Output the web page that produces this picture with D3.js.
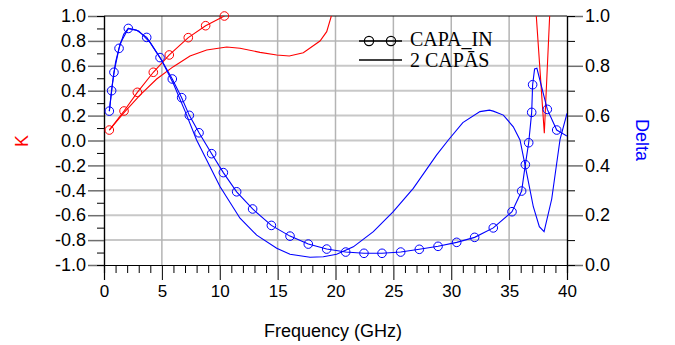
<!DOCTYPE html>
<html><head><meta charset="utf-8">
<script src="https://cdn.jsdelivr.net/npm/d3@7"></script>
<style>
html,body{margin:0;padding:0;background:#fff;}
svg{display:block;}
text{font-family:"Liberation Sans",Arial,sans-serif;}
</style></head>
<body>
<script>
// ---------- data ----------
const xTicks = [0,5,10,15,20,25,30,35,40];
const kTicks = [-1.0,-0.8,-0.6,-0.4,-0.2,0.0,0.2,0.4,0.6,0.8,1.0];
const deltaTicks = [0.0,0.2,0.4,0.6,0.8,1.0];
const legendLabels = ["CAPA_IN","2 CAPĀS"];

// K, CAPA_IN (red, circles)
const capaInK = [[0.46,0.084],[1.73,0.237],[2.88,0.387],[4.26,0.548],[5.64,0.687],[7.28,0.826],[8.78,0.922],[10.4,1.0],[11.6,1.07]];
const capaInKMarks = [[0.46,0.084],[1.73,0.237],[2.88,0.387],[4.26,0.548],[5.64,0.687],[7.28,0.826],[8.78,0.922],[10.4,1.0]];

// Delta, CAPA_IN (blue, circles)
const capaInDelta = [[0.46,0.618],[0.66,0.700],[0.86,0.774],[1.30,0.870],[1.7,0.927],[2.10,0.950],[2.8,0.944],[3.69,0.914],[4.84,0.833],[5.90,0.747],[6.71,0.672],[7.37,0.601],[8.21,0.531],[9.30,0.447],[10.31,0.371],[11.46,0.294],[12.84,0.225],[14.46,0.159],[16.07,0.116],[17.65,0.084],[19.24,0.064],[20.88,0.052],[22.46,0.047],[24.02,0.047],[25.63,0.052],[27.24,0.063],[28.86,0.075],[30.47,0.091],[32.02,0.111],[33.63,0.149],[35.25,0.214],[36.08,0.297],[36.40,0.403],[36.69,0.491],[36.95,0.613],[37.03,0.724],[37.2,0.787],[37.4,0.79],[38.30,0.625],[39.11,0.542],[40,0.518]];
const capaInDeltaMarks = [[0.46,0.618],[0.66,0.700],[0.86,0.774],[1.30,0.870],[2.10,0.950],[3.69,0.914],[4.84,0.833],[5.90,0.747],[6.71,0.672],[7.37,0.601],[8.21,0.531],[9.30,0.447],[10.31,0.371],[11.46,0.294],[12.84,0.225],[14.46,0.159],[16.07,0.116],[17.65,0.084],[19.24,0.064],[20.88,0.052],[22.46,0.047],[24.02,0.047],[25.63,0.052],[27.24,0.063],[28.86,0.075],[30.47,0.091],[32.02,0.111],[33.63,0.149],[35.25,0.214],[36.08,0.297],[36.40,0.403],[36.69,0.491],[36.95,0.613],[37.03,0.724],[38.30,0.625],[39.11,0.542]];

// K, 2 CAPAS (red, plain)
const twoCapasK = [[0.46,0.084],[1.67,0.218],[3.11,0.365],[4.55,0.494],[5.99,0.593],[7.43,0.679],[8.87,0.727],[10.6,0.751],[11.75,0.741],[13.48,0.708],[14.92,0.687],[16.01,0.679],[17.22,0.705],[18.66,0.799],[19.24,0.874],[19.64,1.0],[20.2,1.2],[37.2,1.2],[38.04,0.058],[38.6,1.2]];

// Delta, 2 CAPAS (blue, plain)
const twoCapasDelta = [[0.46,0.618],[0.7,0.72],[1.0,0.815],[1.4,0.89],[2.1,0.95],[3.0,0.94],[4.0,0.893],[5.0,0.82],[6.0,0.728],[7.0,0.618],[8.0,0.502],[8.87,0.422],[10.02,0.315],[11.75,0.188],[13.19,0.120],[14.92,0.067],[16.07,0.043],[17.8,0.031],[18.95,0.033],[20.1,0.043],[21.54,0.073],[23.27,0.134],[24.99,0.214],[26.72,0.308],[28.74,0.442],[29.75,0.502],[31.0,0.572],[32.48,0.616],[33.3,0.622],[33.63,0.618],[34.5,0.602],[35.36,0.555],[35.94,0.502],[36.52,0.368],[37.09,0.234],[37.61,0.154],[38.02,0.134],[38.68,0.265],[39.4,0.505],[40,0.609]];

// ---------- layout ----------
const W = 675, H = 345;
const L = 104, R = 567, T = 16, B = 265;
const x = d3.scaleLinear().domain([0,40]).range([L,R]);
const yK = d3.scaleLinear().domain([-1,1]).range([B,T]);
const yD = d3.scaleLinear().domain([0,1]).range([B,T]);

const svg = d3.select("body").append("svg").attr("width",W).attr("height",H);

svg.append("defs").append("clipPath").attr("id","clip")
  .append("rect").attr("x",L).attr("y",T).attr("width",R-L).attr("height",B-T);

// grid
const grid = svg.append("g");
grid.selectAll(".hg").data(kTicks.filter(d=>d>-1 && d<1)).enter().append("line")
  .attr("x1",L).attr("x2",R).attr("y1",d=>yK(d)).attr("y2",d=>yK(d))
  .attr("stroke","#c8c8c8").attr("stroke-width",2);
grid.selectAll(".vg").data(xTicks.filter(d=>d>0 && d<40)).enter().append("line")
  .attr("y1",T).attr("y2",B).attr("x1",d=>x(d)).attr("x2",d=>x(d))
  .attr("stroke","#b4b4b4").attr("stroke-width",1.5);

// axes
const fmt = d => d.toFixed(1);
const leftMajor = svg.append("g").attr("transform",`translate(${L},0)`)
  .call(d3.axisLeft(yK).tickValues(kTicks).tickSize(16).tickPadding(2).tickFormat(fmt));
const leftMinor = svg.append("g").attr("transform",`translate(${L},0)`)
  .call(d3.axisLeft(yK).tickValues(d3.range(-0.9,1.0,0.2)).tickSize(7).tickFormat(""));
const rightMajor = svg.append("g").attr("transform",`translate(${R},0)`)
  .call(d3.axisRight(yD).tickValues(deltaTicks).tickSize(16).tickPadding(2).tickFormat(fmt));
const rightMinor = svg.append("g").attr("transform",`translate(${R},0)`)
  .call(d3.axisRight(yD).tickValues(d3.range(0.1,1.0,0.2)).tickSize(8).tickFormat(""));
const bottomMajor = svg.append("g").attr("transform",`translate(0,${B})`)
  .call(d3.axisBottom(x).tickValues(xTicks).tickSize(15).tickPadding(5).tickFormat(d3.format("d")));
const bottomMinor = svg.append("g").attr("transform",`translate(0,${B})`)
  .call(d3.axisBottom(x).tickValues(d3.range(0,41,1).filter(d=>d%5!==0)).tickSize(8).tickFormat(""));

[leftMajor,leftMinor,rightMajor,rightMinor,bottomMajor,bottomMinor].forEach(g=>{
  g.select(".domain").attr("stroke","#000").attr("stroke-width",1.2);
  g.selectAll(".tick line").attr("stroke","#000").attr("stroke-width",1);
  g.selectAll("text").attr("fill","#000").style("font-family","'Liberation Sans',Arial,sans-serif");
});
[leftMajor,rightMajor].forEach(g=>{
  g.selectAll(".tick line").attr("stroke","#6e6e6e").attr("stroke-width",1.5);
  g.selectAll("text").style("font-size","18px");
});
bottomMajor.selectAll("text").style("font-size","17px");

// top border
svg.append("line").attr("x1",L).attr("x2",R).attr("y1",T).attr("y2",T)
  .attr("stroke","#000").attr("stroke-width",1.2);

// axis titles
svg.append("text").attr("transform","translate(28,141) rotate(-90)")
  .attr("text-anchor","middle").attr("fill","#ff0000").style("font-size","18px").text("K");
svg.append("text").attr("transform","translate(636,140) rotate(90)")
  .attr("text-anchor","middle").attr("fill","#0000ff").style("font-size","18px").text("Delta");
svg.append("text").attr("x",333).attr("y",337)
  .attr("text-anchor","middle").attr("fill","#000").style("font-size","18px").text("Frequency (GHz)");

// series
const plot = svg.append("g").attr("clip-path","url(#clip)");
const lineK = d3.line().x(d=>x(d[0])).y(d=>yK(d[1]));
const lineD = d3.line().x(d=>x(d[0])).y(d=>yD(d[1]));

plot.append("path").datum(twoCapasK).attr("d",lineK).attr("fill","none").attr("stroke","#ff0000").attr("stroke-width",1.1);
plot.append("path").datum(capaInK).attr("d",lineK).attr("fill","none").attr("stroke","#ff0000").attr("stroke-width",1.1);
plot.append("path").datum(twoCapasDelta).attr("d",lineD).attr("fill","none").attr("stroke","#0000ff").attr("stroke-width",1.1);
plot.append("path").datum(capaInDelta).attr("d",lineD).attr("fill","none").attr("stroke","#0000ff").attr("stroke-width",1.1);

const marks = svg.append("g");
marks.selectAll(".mk").data(capaInKMarks).enter().append("circle")
  .attr("cx",d=>x(d[0])).attr("cy",d=>yK(d[1])).attr("r",4.3)
  .attr("fill","none").attr("stroke","#ff0000").attr("stroke-width",1);
marks.selectAll(".md").data(capaInDeltaMarks).enter().append("circle")
  .attr("cx",d=>x(d[0])).attr("cy",d=>yD(d[1])).attr("r",4.3)
  .attr("fill","none").attr("stroke","#0000ff").attr("stroke-width",1);

// legend
const lg = svg.append("g");
lg.append("line").attr("x1",359).attr("x2",402).attr("y1",41).attr("y2",41).attr("stroke","#000").attr("stroke-width",1.3);
lg.selectAll(".lc").data([369,391]).enter().append("circle")
  .attr("cx",d=>d).attr("cy",41).attr("r",4.6).attr("fill","none").attr("stroke","#000").attr("stroke-width",1.2);
lg.append("line").attr("x1",359).attr("x2",402).attr("y1",60).attr("y2",60).attr("stroke","#000").attr("stroke-width",1.5);
lg.selectAll(".lt").data(legendLabels).enter().append("text")
  .attr("x",410).attr("y",(d,i)=>46+i*20.5)
  .style("font-family","'Liberation Serif','Times New Roman',serif").style("font-size","20px")
  .attr("fill","#000").text(d=>d);
</script>
</body></html>
